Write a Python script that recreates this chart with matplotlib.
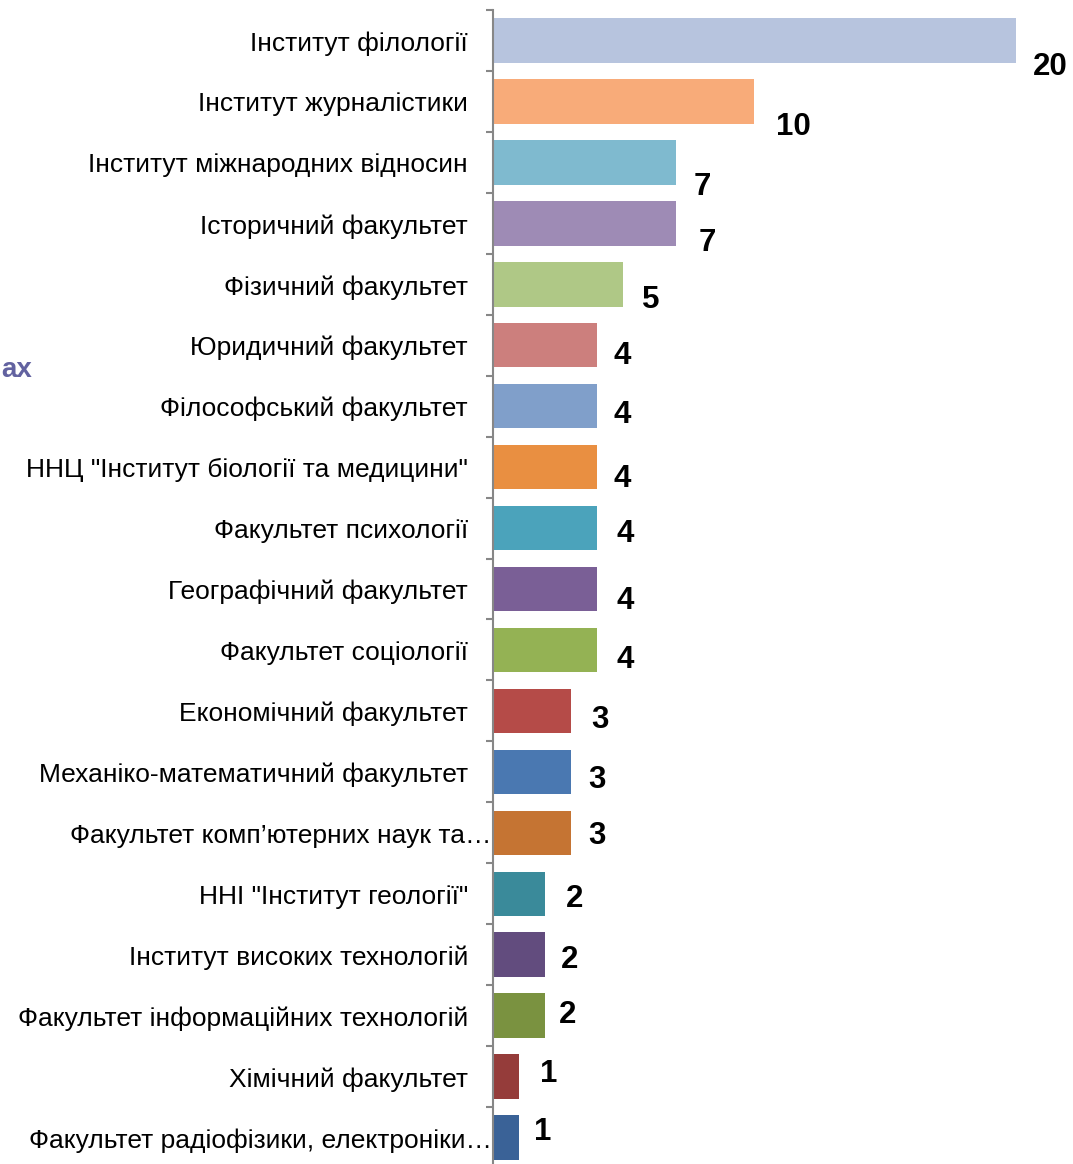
import matplotlib
matplotlib.use("Agg")
import matplotlib.pyplot as plt
import matplotlib.transforms as mtransforms
from matplotlib.ticker import FixedLocator

categories = [
    "Інститут філології",
    "Інститут журналістики",
    "Інститут міжнародних відносин",
    "Історичний факультет",
    "Фізичний факультет",
    "Юридичний факультет",
    "Філософський факультет",
    "ННЦ \"Інститут біології та медицини\"",
    "Факультет психології",
    "Географічний факультет",
    "Факультет соціології",
    "Економічний факультет",
    "Механіко-математичний факультет",
    "Факультет комп’ютерних наук та…",
    "ННІ \"Інститут геології\"",
    "Інститут високих технологій",
    "Факультет інформаційних технологій",
    "Хімічний факультет",
    "Факультет радіофізики, електроніки…",
]
values = [20, 10, 7, 7, 5, 4, 4, 4, 4, 4, 4, 3, 3, 3, 2, 2, 2, 1, 1]

colors = ["#B7C4DE", "#F8AB79", "#7FBACF", "#9E8BB5", "#AFC886", "#CC7F7D",
          "#809FCA", "#E98F41", "#4BA3BB", "#7A5F96", "#94B254", "#B54B48",
          "#4A78B1", "#C57433", "#3A8A9A", "#624C7E", "#7A9240", "#953C3A",
          "#3A6297"]

# label offsets (pixels) from bar end / bar centre
label_dx = [17, 22, 18, 23, 19, 16, 16, 16, 19, 19, 19, 20, 17, 17, 21, 16, 14, 21, 15]
label_dy = [23, 22, 21, 16, 12, 7, 5, 8, 2, 8, 6, 5, 4, -1, 1, 1, -5, -7, -10]

W, H = 1073, 1164
fig = plt.figure(figsize=(W / 100, H / 100), dpi=100)
plt.rcParams['font.family'] = ['Liberation Sans', 'DejaVu Sans']

x0 = 492.5
px_per_unit = (1016 - 492.5) / 20
top_px = 10
pitch = 60.95
n = len(categories)
ax_top = 1 - top_px / H
ax = fig.add_axes([x0 / W, 0, 1 - x0 / W, ax_top])
ax.set_xlim(0, (W - x0) / px_per_unit)
ymax_data = -0.5 + (H - top_px) / pitch
ax.set_ylim(ymax_data, -0.5)

ypos = list(range(n))
ax.barh(ypos, values, height=0.73, color=colors, zorder=2)

for spine in ["top", "right", "bottom"]:
    ax.spines[spine].set_visible(False)
ax.spines["left"].set_color("#878787")
ax.spines["left"].set_linewidth(1.5)
ax.spines["left"].set_zorder(3)
ax.set_xticks([])
ax.set_yticks([])
ax.yaxis.set_minor_locator(FixedLocator([i - 0.5 for i in range(n + 1)]))
ax.tick_params(axis="y", which="minor", length=5, width=1.5, color="#878787")

# category labels (truncated ones reach up to the axis)
blend = mtransforms.blended_transform_factory(ax.transAxes, ax.transData)
for i, cat in enumerate(categories):
    gap_px = 1 if cat.endswith("…") else 24.5
    tr = blend + mtransforms.ScaledTranslation(-gap_px / 100, -3 / 100, fig.dpi_scale_trans)
    ax.text(0, i, cat, transform=tr, ha="right", va="center",
            fontsize=19, color="#000000", clip_on=False)

for i, v in enumerate(values):
    ax.annotate(str(v), xy=(v, i), xytext=(label_dx[i] * 0.72, -(label_dy[i] + 4) * 0.72),
                textcoords="offset points", ha="left", va="center",
                fontsize=22.5, fontweight="bold", color="#000000")

fig.text(1 / W, 1 - 370 / H, "ах", ha="left", va="center", fontsize=20,
         fontweight="bold", color="#6262A0")

fig.savefig("out.png", dpi=100)
